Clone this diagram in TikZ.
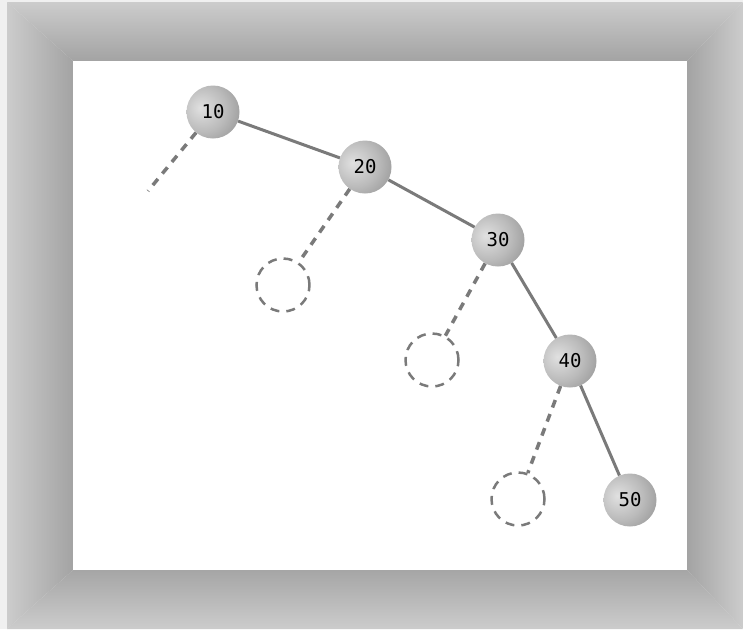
\documentclass[tikz,border=0pt]{standalone}
\usepackage{fontspec}
\setmonofont{DejaVu Sans Mono}

\pgfdeclareradialshading{knoopbol}{\pgfpoint{-12bp}{4bp}}{%
  color(0bp)=(black!12); color(22bp)=(black!27); color(40bp)=(black!42); color(50bp)=(black!54); color(100bp)=(black!54)}

\begin{document}
\begin{tikzpicture}[x=1pt, y=-1pt,
    sleutel/.style={circle, shading=knoopbol, minimum size=53pt, inner sep=0pt,
      font=\ttfamily\fontsize{19}{21}\selectfont},
    leeg/.style={circle, draw=black!52, line width=2.5pt, dash pattern=on 9pt off 7pt,
      minimum size=53pt, inner sep=0pt},
    tak/.style={draw=black!52, line width=3pt},
    nulltak/.style={draw=black!52, line width=3.5pt, dash pattern=on 8pt off 7pt}]

  \useasboundingbox (0,0) rectangle (743,629);

  % ============================================================
  % LIJST: grijze omlijsting
  % ============================================================

  \fill[black!6] (0,0) rectangle (743,629);
  \begin{scope}
    \clip (7,2) -- (73,61) -- (73,570) -- (7,629) -- cycle;
    \shade[left color=black!20, right color=black!36] (7,2) rectangle (73,629);
  \end{scope}
  \begin{scope}
    \clip (7,2) -- (743,2) -- (687,61) -- (73,61) -- cycle;
    \shade[top color=black!20, bottom color=black!36] (7,2) rectangle (743,61);
  \end{scope}
  \begin{scope}
    \clip (743,2) -- (687,61) -- (687,570) -- (743,629) -- cycle;
    \shade[left color=black!36, right color=black!20] (687,2) rectangle (743,629);
  \end{scope}
  \begin{scope}
    \clip (7,629) -- (73,570) -- (687,570) -- (743,629) -- cycle;
    \shade[top color=black!35, bottom color=black!20] (7,570) rectangle (743,629);
  \end{scope}
  \fill[white] (73,61) rectangle (687,570);

  % ============================================================
  % BOOM: rechtsscheve keten
  % ============================================================

  % Sleutels
  \node[sleutel] (k10) at (213,112) {10};
  \node[sleutel] (k20) at (365,167) {20};
  \node[sleutel] (k30) at (498,240) {30};
  \node[sleutel] (k40) at (570,361) {40};
  \node[sleutel] (k50) at (630,500) {50};

  % Lege deelbomen
  \coordinate (n10) at (148,191);
  \node[leeg] (n20) at (283,285) {};
  \node[leeg] (n30) at (432,360) {};
  \node[leeg] (n40) at (518,499) {};

  % Rechterkinderen
  \draw[tak] (k10) -- (k20);
  \draw[tak] (k20) -- (k30);
  \draw[tak] (k30) -- (k40);
  \draw[tak] (k40) -- (k50);

  % Linkerkinderen
  \draw[nulltak] (k10) -- (n10);
  \draw[nulltak] (k20) -- (n20);
  \draw[nulltak] (k30) -- (n30);
  \draw[nulltak] (k40) -- (n40);

\end{tikzpicture}
\end{document}
